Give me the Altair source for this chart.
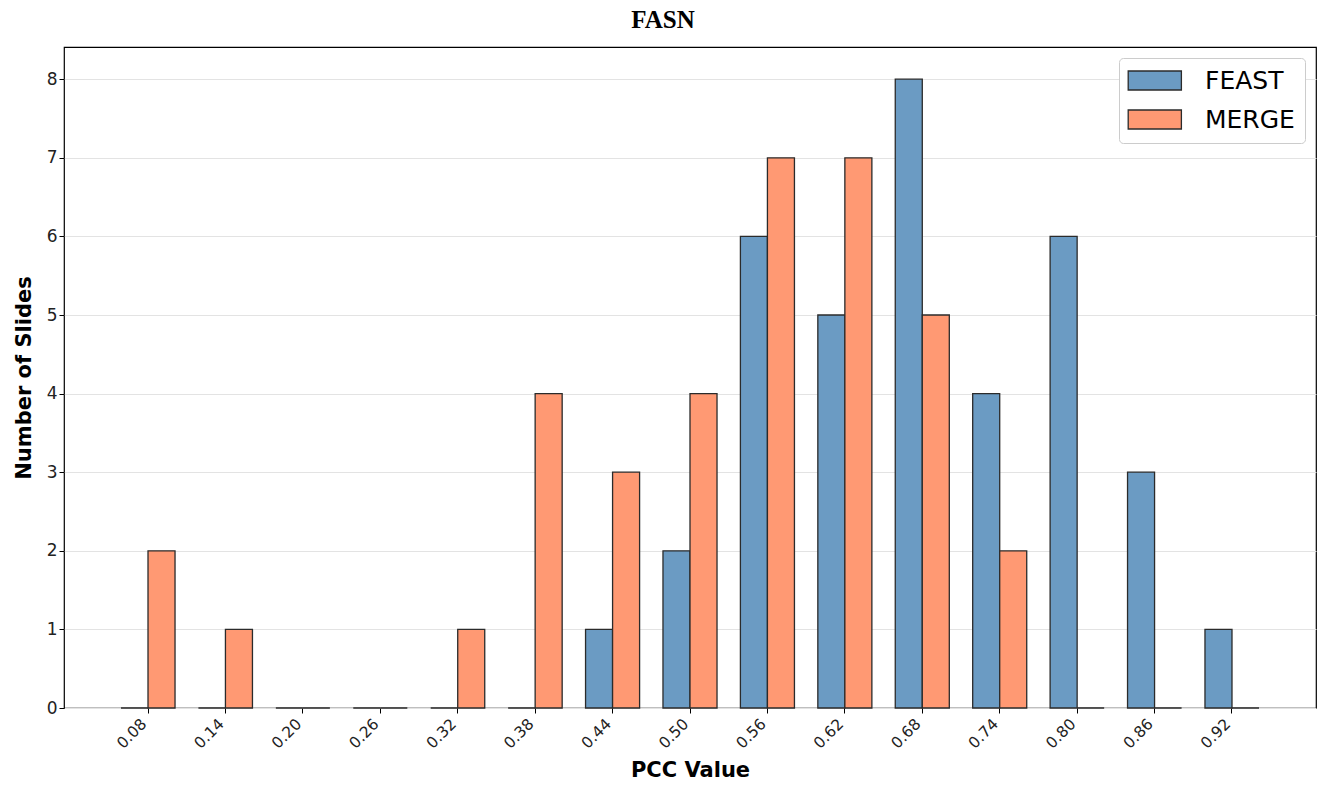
import altair as alt
import pandas as pd

pcc_labels = ["0.08", "0.14", "0.20", "0.26", "0.32", "0.38", "0.44", "0.50",
              "0.56", "0.62", "0.68", "0.74", "0.80", "0.86", "0.92"]
feast_counts = [0, 0, 0, 0, 0, 0, 1, 2, 6, 5, 8, 4, 6, 3, 1]
merge_counts = [2, 1, 0, 0, 1, 4, 3, 4, 7, 7, 5, 2, 0, 0, 0]
methods = ["FEAST", "MERGE"]
colors = ["#6b9bc3", "#ff9973"]

rows = []
for lab, f, m in zip(pcc_labels, feast_counts, merge_counts):
    rows.append({"pcc": lab, "method": "FEAST", "count": f})
    rows.append({"pcc": lab, "method": "MERGE", "count": m})
df = pd.DataFrame(rows)

chart = alt.Chart(df).mark_bar(
    stroke="#2b2b2b", strokeWidth=1.3, opacity=1
).encode(
    x=alt.X("pcc:N", sort=pcc_labels,
            scale=alt.Scale(paddingInner=0.302, paddingOuter=0.736),
            axis=alt.Axis(title="PCC Value", labelAngle=-45, labelAlign="right",
                          labelBaseline="middle", labelFontSize=15.5, labelFont="DejaVu Sans",
                          labelColor="#222", tickColor="#000", tickSize=5,
                          titleFont="DejaVu Sans", titleFontSize=21, titleFontWeight="bold",
                          titleColor="#000", titlePadding=8, domain=False, grid=False,
                          labelPadding=8, labelOffset=-4)),
    xOffset=alt.XOffset("method:N", sort=methods,
                        scale=alt.Scale(paddingInner=0, paddingOuter=0)),
    y=alt.Y("count:Q", scale=alt.Scale(domain=[0, 8.41], nice=False),
            axis=alt.Axis(title="Number of Slides", values=list(range(9)), format="d",
                          labelFontSize=17, labelFont="DejaVu Sans", labelColor="#222",
                          tickColor="#000", tickSize=5, domain=False,
                          gridColor="#e3e3e3", gridWidth=1,
                          titleFont="DejaVu Sans", titleFontSize=21, titleFontWeight="bold",
                          titleColor="#000", titlePadding=12)),
    color=alt.Color("method:N", sort=methods,
                    scale=alt.Scale(domain=methods, range=colors),
                    legend=alt.Legend(title=None, orient="top-right", offset=11,
                                      labelFontSize=25, labelFont="DejaVu Sans",
                                      labelColor="#000",
                                      symbolType="M-1.4,-1L4.2,-1L4.2,1L-1.4,1Z",
                                      symbolSize=361, symbolStrokeColor="#2b2b2b",
                                      symbolStrokeWidth=1.3, symbolOpacity=1,
                                      labelOffset=51, rowPadding=13,
                                      padding=10, cornerRadius=4,
                                      strokeColor="#cccccc", fillColor="#ffffff")),
).properties(
    width=1252, height=661,
    title=alt.TitleParams("FASN", font="Liberation Serif", fontSize=25,
                          fontWeight="bold", color="#000", dx=-27, offset=14),
    padding={"left": 64, "top": 47, "right": 5, "bottom": 80},
    autosize=alt.AutoSizeParams(type="none"),
).configure_view(stroke="#000", strokeWidth=1.2)

chart.save("out.html", embed_options={"renderer": "svg", "actions": False})
